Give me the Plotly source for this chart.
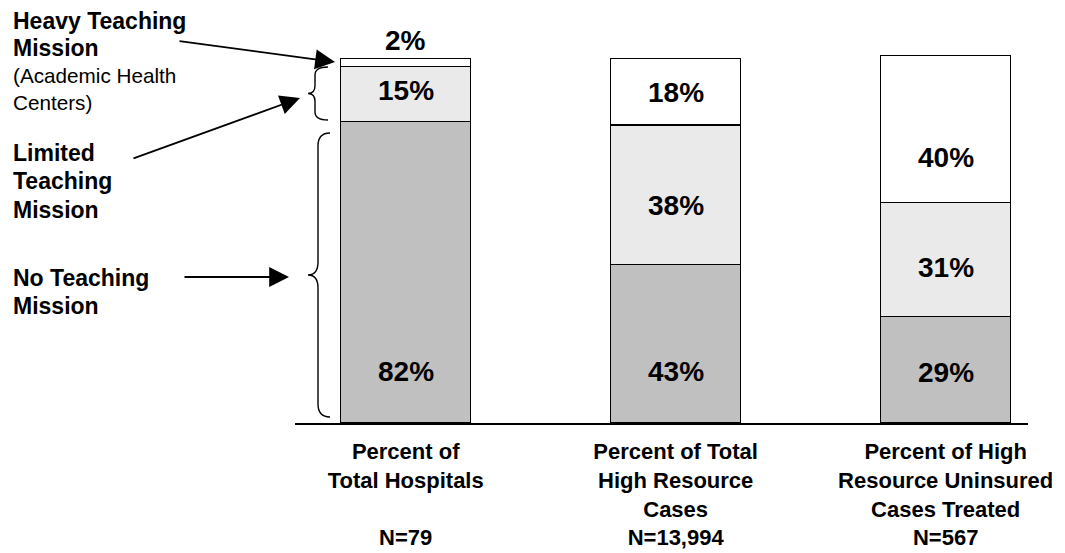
import plotly.graph_objects as go

# ---- data ----
categories = [
    "Percent of<br>Total Hospitals<br><br>N=79",
    "Percent of Total<br>High Resource<br>Cases<br>N=13,994",
    "Percent of High<br>Resource Uninsured<br>Cases Treated<br>N=567",
]
no_teaching = [82, 43, 29]
limited_teaching = [15, 38, 31]
heavy_teaching = [2, 18, 40]

# ---- layout constants ----
FONT = "Liberation Sans, Arial, sans-serif"
WIDTH, HEIGHT = 1065, 553
L, R, T, B = 295, 37, 18, 130
PW, PH = WIDTH - L - R, HEIGHT - T - B
Y_MAX = 110.1

# label y positions (data units) for each series, per bar
no_label_y = [13.95, 13.95, 13.75]
lim_label_y = [90.4, 59.0, 42.4]
heavy_label_y = [104.0, 89.9, 72.2]


def px(x):
    return (x - L) / PW


def py(y):
    return (HEIGHT - B - y) / PH


fig = go.Figure()
series = [
    ("No Teaching Mission", no_teaching, "#C0C0C0"),
    ("Limited Teaching Mission", limited_teaching, "#EAEAEA"),
    ("Heavy Teaching Mission", heavy_teaching, "#FFFFFF"),
]
for name, vals, color in series:
    fig.add_trace(go.Bar(
        x=categories, y=vals, name=name, width=0.481,
        marker=dict(color=color, line=dict(color="black", width=1.3)),
        hoverinfo="skip",
    ))

annotations = []
for vals, ys in [(no_teaching, no_label_y), (limited_teaching, lim_label_y),
                 (heavy_teaching, heavy_label_y)]:
    for cat, v, yy in zip(categories, vals, ys):
        annotations.append(dict(
            x=cat, y=yy, xref="x", yref="y", text=f"<b>{v}%</b>",
            showarrow=False, xanchor="center", yanchor="middle",
            font=dict(family=FONT, size=28, color="black"),
        ))

big = "<span style='font-size:23px'><b>{}</b></span>"
annotations += [
    dict(x=px(11), y=py(60.5), xref="paper", yref="paper", xanchor="left", yanchor="middle",
         align="left", showarrow=False,
         text=big.format("Heavy Teaching") + "<br>" + big.format("Mission") +
         "<br>(Academic Health<br>Centers)",
         font=dict(family=FONT, size=20.7, color="black")),
    dict(x=px(11), y=py(181), xref="paper", yref="paper", xanchor="left", yanchor="middle",
         align="left", showarrow=False,
         text=big.format("Limited") + "<br>" + big.format("Teaching") + "<br>" + big.format("Mission"),
         font=dict(family=FONT, size=21.9, color="black")),
    dict(x=px(11), y=py(292), xref="paper", yref="paper", xanchor="left", yanchor="middle",
         align="left", showarrow=False,
         text=big.format("No Teaching") + "<br>" + big.format("Mission"),
         font=dict(family=FONT, size=21.9, color="black")),
]

# arrows (tip in paper coords, tail offset in px)
for tip, tail in [((335, 62), (178, 41)), ((300, 98), (132, 159)), ((289, 277), (183, 277))]:
    annotations.append(dict(
        x=px(tip[0]), y=py(tip[1]), xref="paper", yref="paper",
        ax=tail[0] - tip[0], ay=tail[1] - tip[1], axref="pixel", ayref="pixel",
        text="", showarrow=True, arrowhead=2, arrowsize=2.2, arrowwidth=1.8,
        arrowcolor="black", standoff=0, startstandoff=0,
    ))


def brace(xr, xs, xp, y0, y1, r):
    ym = (y0 + y1) / 2
    P = lambda x, y: f"{px(x):.5f},{py(y):.5f}"
    return (f"M {P(xr, y0)} Q {P(xs, y0)} {P(xs, y0 + r)} L {P(xs, ym - r)} "
            f"Q {P(xs, ym)} {P(xp, ym)} Q {P(xs, ym)} {P(xs, ym + r)} "
            f"L {P(xs, y1 - r)} Q {P(xs, y1)} {P(xr, y1)}")


shapes = [
    dict(type="path", xref="paper", yref="paper", path=brace(330, 318, 308, 133, 417, 13),
         line=dict(color="black", width=1.4)),
    dict(type="path", xref="paper", yref="paper", path=brace(328, 315, 308, 67, 120, 8),
         line=dict(color="black", width=1.4)),
]

fig.update_layout(
    width=WIDTH, height=HEIGHT,
    margin=dict(l=L, r=R, t=T, b=B, pad=0, autoexpand=False),
    barmode="stack", showlegend=False,
    plot_bgcolor="white", paper_bgcolor="white",
    font=dict(family=FONT, color="black"),
    annotations=annotations, shapes=shapes,
    xaxis=dict(range=[-0.41, 2.305], showline=True, linecolor="black", linewidth=2,
               ticks="", showgrid=False, zeroline=False, ticklabelstandoff=8,
               automargin=False,
               tickfont=dict(family=FONT, size=22.0, color="black", weight="bold")),
    yaxis=dict(range=[0, Y_MAX], visible=False, showgrid=False, zeroline=False,
               automargin=False),
)

fig.write_html("out.html")
